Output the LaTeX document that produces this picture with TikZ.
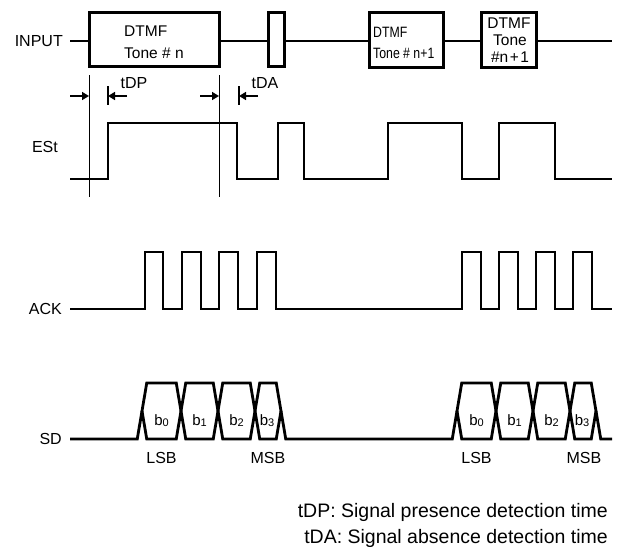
\documentclass[tikz,border=0pt]{standalone}
\usepackage{fontspec}
\setmainfont{Liberation Sans}
\usetikzlibrary{arrows.meta}
\begin{document}
\begin{tikzpicture}[x=1pt,y=-1pt,
  sig/.style={line width=2.8pt, line join=miter},
  boxs/.style={draw, line width=3pt, inner sep=0pt, fill=white},
  lbl/.style={font=\fontsize{16}{18}\selectfont, inner sep=0pt},
  leg/.style={font=\fontsize{19.5}{22}\selectfont, inner sep=0pt},
  boxtxt/.style={font=\fontsize{15.5}{18}\selectfont, inner sep=0pt},
  narrow/.style={font=\fontsize{15}{16}\selectfont, inner sep=0pt, xscale=0.82},
  bitl/.style={font=\fontsize{15}{16}\selectfont, inner sep=0pt},
  thinl/.style={line width=1pt},
  arr/.style={line width=1.6pt, -{Triangle[length=7pt,width=8pt]}},
  tick/.style={line width=1.4pt},
]
\useasboundingbox (0,0) rectangle (619,557);

% ---------- INPUT ----------
\node[lbl, anchor=east] (lin) at (63,41) {INPUT};
\coordinate (inL) at (70,41);
\coordinate (inR) at (612,41);
\node[boxs, minimum width=130pt, minimum height=54pt] (t1) at (154,39) {};
\node[boxs, minimum width=16pt, minimum height=54pt] (t2) at (276,39) {};
\node[boxs, minimum width=74pt, minimum height=55pt] (t3) at (406,39.5) {};
\node[boxs, minimum width=55pt, minimum height=55pt] (t4) at (508.5,39.5) {};
\draw[sig] (inL) -- (inL -| t1.west);
\draw[sig] (inL -| t1.east) -- (inL -| t2.west);
\draw[sig] (inL -| t2.east) -- (inL -| t3.west);
\draw[sig] (inL -| t3.east) -- (inL -| t4.west);
\draw[sig] (inL -| t4.east) -- (inR);

\node[boxtxt, anchor=west] (t1a) at (124,31) {DTMF};
\node[boxtxt, anchor=west] (t1b) at (124,53) {Tone \# n};
\node[narrow, anchor=west] (t3a) at (373,32) {DTMF};
\node[narrow, anchor=west] (t3b) at (373,53) {Tone \# n+1};
\node[boxtxt] (t4a) at (509,23) {DTMF};
\node[boxtxt] (t4b) at (510,40) {Tone};
\node[boxtxt] (t4c) at (510,57) {\#n\hspace{1.5pt}+\hspace{1.5pt}1};

% ---------- timing markers ----------
\coordinate (v1t) at (89,75);  \coordinate (v1b) at (89,197);
\coordinate (v2t) at (219,75); \coordinate (v2b) at (219,197);
\draw[thinl] (v1t) -- (v1b);
\draw[thinl] (v2t) -- (v2b);

\coordinate (a1s) at (70,96);  \coordinate (a1e) at (89,96);
\coordinate (a2s) at (127,96); \coordinate (a2e) at (108,96);
\coordinate (k1t) at (108,86); \coordinate (k1b) at (108,105);
\draw[arr] (a1s) -- (a1e);
\draw[arr] (a2s) -- (a2e);
\draw[tick] (k1t) -- (k1b);
\node[lbl] (ldp) at (134,83) {tDP};

\coordinate (a3s) at (200,96); \coordinate (a3e) at (219,96);
\coordinate (a4s) at (258,96); \coordinate (a4e) at (239,96);
\coordinate (k2t) at (239,86); \coordinate (k2b) at (239,105);
\draw[arr] (a3s) -- (a3e);
\draw[arr] (a4s) -- (a4e);
\draw[tick] (k2t) -- (k2b);
\node[lbl] (lda) at (265,83) {tDA};

% ---------- ESt ----------
\node[lbl, anchor=east] (lest) at (58,147) {ESt};
\draw[sig] (70,179) -- (108,179) -- (108,123) -- (237,123) -- (237,179)
  -- (278,179) -- (278,123) -- (304,123) -- (304,179)
  -- (388,179) -- (388,123) -- (462,123) -- (462,179)
  -- (499,179) -- (499,123) -- (555,123) -- (555,179) -- (612,179);

% ---------- ACK ----------
\node[lbl, anchor=east] (lack) at (62,309) {ACK};
\draw[sig] (70,309)
  -- (145,309) -- (145,252) -- (163,252) -- (163,309)
  -- (182,309) -- (182,252) -- (201,252) -- (201,309)
  -- (219,309) -- (219,252) -- (238,252) -- (238,309)
  -- (257,309) -- (257,252) -- (276,252) -- (276,309)
  -- (462,309) -- (462,252) -- (481,252) -- (481,309)
  -- (499,309) -- (499,252) -- (518,252) -- (518,309)
  -- (536,309) -- (536,252) -- (555,252) -- (555,309)
  -- (573,309) -- (573,252) -- (592,252) -- (592,309)
  -- (612,309);

% ---------- SD ----------
\node[lbl, anchor=east] (lsd) at (62,439) {SD};
\def\L{439}\def\H{383}\def\M{411}\def\w{4.75}
\draw[sig] (70,\L) -- (142-\w,\L) -- (142,\M);
\draw[sig] (281,\M) -- (281+\w,\L) -- (457-\w,\L) -- (457,\M);
\draw[sig] (596,\M) -- (596+\w,\L) -- (612,\L);
\foreach \off in {0,315}{
  \foreach \a/\b in {142/181,181/218,218/255,255/281}{
    \draw[sig] (\a+\off,\M) -- (\a+\off+\w,\H) -- (\b+\off-\w,\H) -- (\b+\off,\M)
      -- (\b+\off-\w,\L) -- (\a+\off+\w,\L) -- cycle;
  }
}
\node[bitl] (g1b0) at (161.5,421) {b\raisebox{-1pt}{\fontsize{11}{11}\selectfont 0}};
\node[bitl] (g1b1) at (199.5,421) {b\raisebox{-1pt}{\fontsize{11}{11}\selectfont 1}};
\node[bitl] (g1b2) at (236.5,421) {b\raisebox{-1pt}{\fontsize{11}{11}\selectfont 2}};
\node[bitl] (g1b3) at (267,421) {b\raisebox{-1pt}{\fontsize{11}{11}\selectfont 3}};
\node[bitl] (g2b0) at (476.5,421) {b\raisebox{-1pt}{\fontsize{11}{11}\selectfont 0}};
\node[bitl] (g2b1) at (514.5,421) {b\raisebox{-1pt}{\fontsize{11}{11}\selectfont 1}};
\node[bitl] (g2b2) at (551.5,421) {b\raisebox{-1pt}{\fontsize{11}{11}\selectfont 2}};
\node[bitl] (g2b3) at (582,421) {b\raisebox{-1pt}{\fontsize{11}{11}\selectfont 3}};
\node[lbl] (lsb1) at (161.5,458) {LSB};
\node[lbl] (msb1) at (268,458) {MSB};
\node[lbl] (lsb2) at (476.5,458) {LSB};
\node[lbl] (msb2) at (584,458) {MSB};

% ---------- legend ----------
\node[leg, anchor=east] (leg1) at (608,512) {tDP: Signal presence detection time};
\node[leg, anchor=east] (leg2) at (608,538) {tDA: Signal absence detection time};
\end{tikzpicture}
\end{document}
